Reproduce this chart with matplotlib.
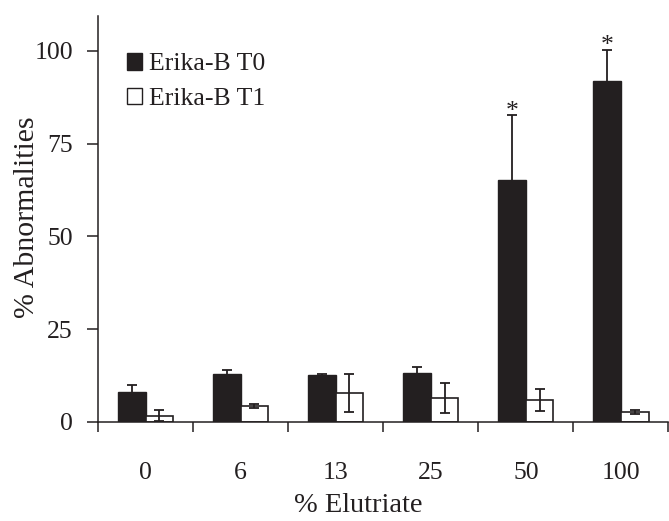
import matplotlib.pyplot as plt
import numpy as np
from matplotlib.patches import Patch

plt.rcParams['font.family'] = ['Liberation Serif', 'DejaVu Serif']

# data
categories = ['0', '6', '13', '25', '50', '100']
t0_values = [8.0, 12.8, 12.6, 13.2, 65.3, 91.8]
t0_errors = [1.9, 1.3, 0.2, 1.5, 17.3, 8.5]
t1_values = [1.7, 4.3, 7.9, 6.5, 6.0, 2.7]
t1_errors = [1.5, 0.65, 5.1, 4.1, 3.0, 0.6]
star_flags = [False, False, False, False, True, True]
series_labels = ['Erika-B T0', 'Erika-B T1']

ink = '#231f20'
w = 0.29

fig = plt.figure(figsize=(6.69, 5.21), dpi=100)
ax = fig.add_axes([98 / 669, 99 / 521, 570.5 / 669, 406 / 521])

x = np.arange(len(categories))
ax.bar(x - w / 2, t0_values, w, color=ink, edgecolor=ink, linewidth=1.0,
       yerr=t0_errors, error_kw=dict(ecolor=ink, elinewidth=1.3, capsize=3.3, capthick=1.3), zorder=2)
ax.bar(x + w / 2, t1_values, w, color='white', edgecolor=ink, linewidth=1.2,
       yerr=t1_errors, error_kw=dict(ecolor=ink, elinewidth=1.3, capsize=3.3, capthick=1.3), zorder=2)

# significance stars above the T0 error bars
for i, flag in enumerate(star_flags):
    if flag:
        ax.text(x[i] - w / 2, t0_values[i] + t0_errors[i] - 0.6, '*', ha='center', va='baseline',
                fontsize=18.5, color=ink)

ax.set_xlim(-0.5, len(categories) - 0.5)
ax.set_ylim(0, 109.4)

# category separators as ticks, labels in the middle
ax.set_xticks(np.arange(len(categories) + 1) - 0.5)
ax.set_xticklabels([])
ax.set_xticks(x, minor=True)
ax.set_xticklabels(categories, minor=True)
ax.tick_params(axis='x', which='major', direction='out', length=7.5, width=1.1, color=ink)
ax.tick_params(axis='x', which='minor', length=0, pad=29, labelsize=18.5, labelcolor=ink)

ax.set_yticks([0, 25, 50, 75, 100])
ax.tick_params(axis='y', direction='out', length=8, width=1.1, pad=10, labelsize=18.5,
               color=ink, labelcolor=ink)

for side in ['top', 'right']:
    ax.spines[side].set_visible(False)
for side in ['left', 'bottom']:
    ax.spines[side].set_linewidth(1.1)
    ax.spines[side].set_color(ink)

ax.set_xlabel('% Elutriate', fontsize=20.5, color=ink)
ax.set_ylabel('% Abnormalities', fontsize=21.5, color=ink)
ax.xaxis.set_label_coords(0.457, -0.1746)
ax.yaxis.set_label_coords(-0.1025, 0.504)

handles = [Patch(facecolor=ink, edgecolor=ink, linewidth=1.0),
           Patch(facecolor='white', edgecolor=ink, linewidth=1.0)]
ax.legend(handles, series_labels, loc='upper left', bbox_to_anchor=(0.05, 0.909), frameon=False,
          fontsize=18.5, handlelength=0.62, handleheight=0.62, handletextpad=0.27,
          labelspacing=0.475, borderpad=0, borderaxespad=0, labelcolor=ink)

fig.savefig('out.png', dpi=100)
